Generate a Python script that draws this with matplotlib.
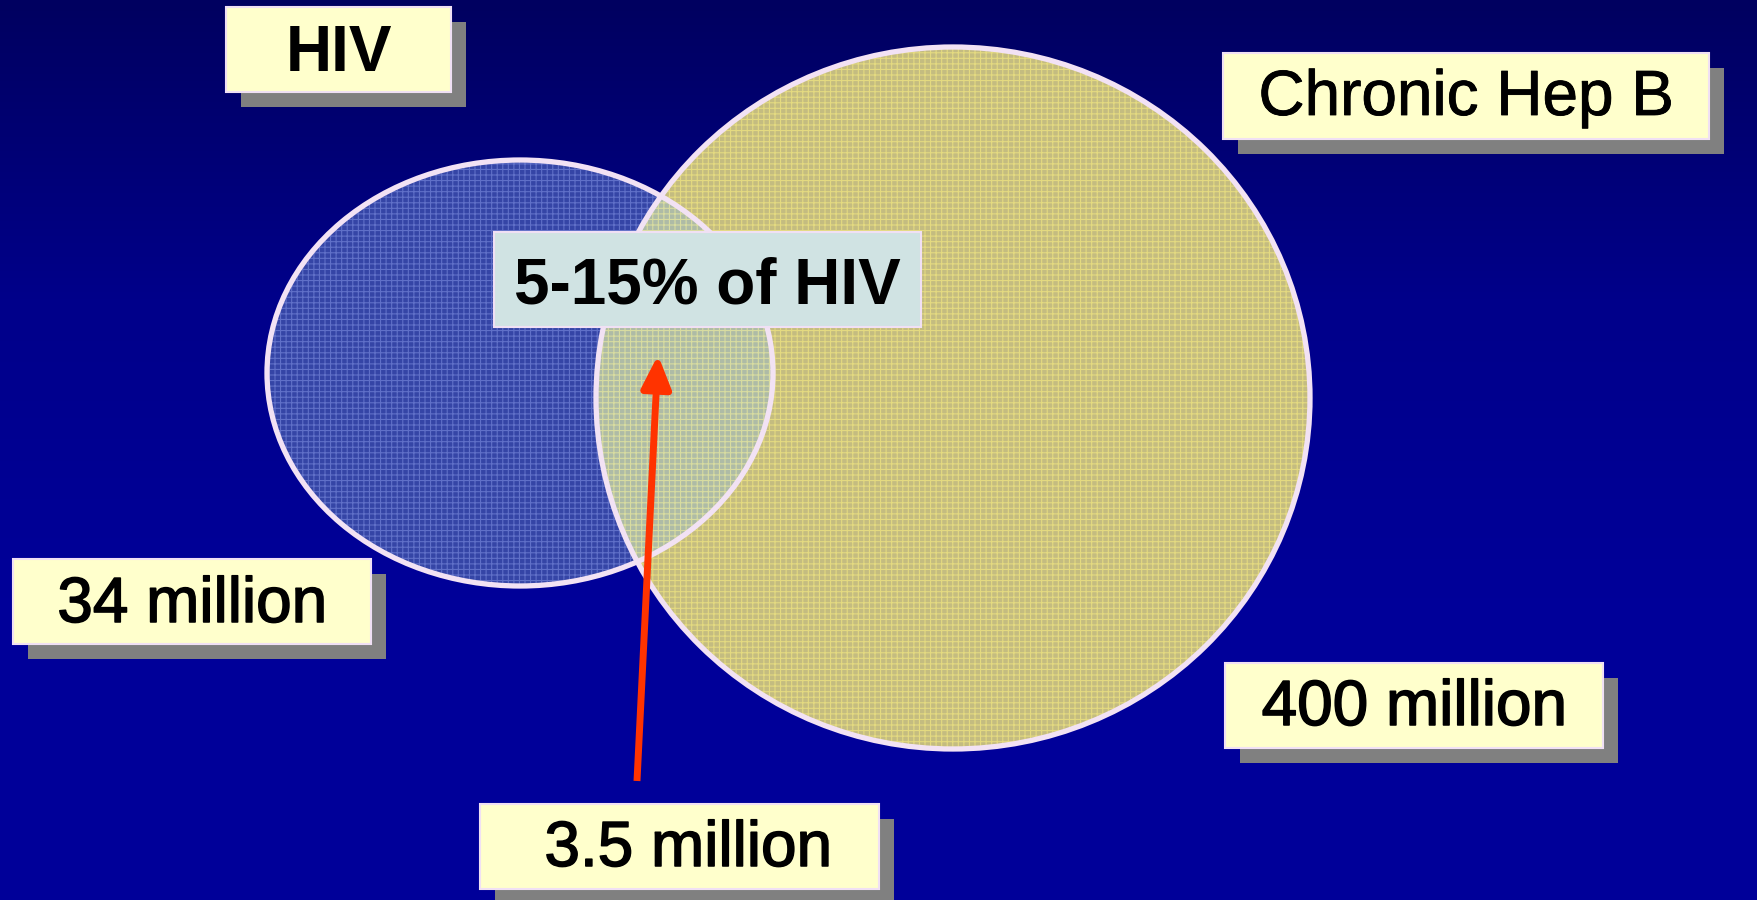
import numpy as np
import matplotlib.pyplot as plt
import matplotlib.patheffects as pe
from matplotlib.patches import Ellipse, Rectangle
from matplotlib.colors import LinearSegmentedColormap

plt.rcParams['font.family'] = ['Liberation Sans', 'DejaVu Sans']

# venn content: the two populations and their overlap
groups = ["HIV", "Chronic Hep B"]
group_totals = ["34 million", "400 million"]
overlap_share = "5-15% of HIV"
overlap_total = "3.5 million"

W, H = 1758, 900
fig = plt.figure(figsize=(W / 100, H / 100), dpi=100)
ax = fig.add_axes([0, 0, 1, 1])
ax.set_xlim(0, W)
ax.set_ylim(H, 0)
ax.axis('off')

# navy to blue background gradient
bg = LinearSegmentedColormap.from_list('bg', ['#000060', '#00008a', '#000099', '#000099'])
ax.imshow(np.linspace(0, 1, 256).reshape(-1, 1), cmap=bg, aspect='auto',
          extent=[0, W, H, 0], zorder=0)

plt.rcParams['hatch.linewidth'] = 0.8

# ellipse geometry (center x, center y, width, height)
hiv_geo = (520, 373, 506, 426)
hbv_geo = (953, 398, 714, 702)
edge_col = '#f2e2f4'

hiv = Ellipse(hiv_geo[:2], hiv_geo[2], hiv_geo[3], facecolor='#3545a6', edgecolor='none', zorder=2)
ax.add_patch(hiv)
ax.add_patch(Ellipse(hiv_geo[:2], hiv_geo[2], hiv_geo[3], facecolor='none', edgecolor='#6070c8',
                     hatch='+++', linewidth=0, zorder=2.1))

hbv = Ellipse(hbv_geo[:2], hbv_geo[2], hbv_geo[3], facecolor='#c4bc80', edgecolor='none', zorder=3)
ax.add_patch(hbv)
ax.add_patch(Ellipse(hbv_geo[:2], hbv_geo[2], hbv_geo[3], facecolor='none', edgecolor='#e4da80',
                     hatch='+++', linewidth=0, zorder=3.1))

# overlap lens
lens = Ellipse(hbv_geo[:2], hbv_geo[2], hbv_geo[3], facecolor='#aebba6', edgecolor='none', zorder=4)
ax.add_patch(lens)
lens.set_clip_path(hiv)
lens_h = Ellipse(hbv_geo[:2], hbv_geo[2], hbv_geo[3], facecolor='none', edgecolor='#d8dca0',
                 hatch='+++', linewidth=0, zorder=4.1)
ax.add_patch(lens_h)
lens_h.set_clip_path(hiv)

# outlines on top
for g in (hiv_geo, hbv_geo):
    ax.add_patch(Ellipse(g[:2], g[2], g[3], facecolor='none', edgecolor=edge_col,
                         linewidth=3.8, zorder=5))

# arrow from the 3.5 million label to the overlap
ax.annotate('', xy=(658, 355), xytext=(637, 781),
            arrowprops=dict(arrowstyle='-|>,head_length=1.0,head_width=0.45',
                            color='#ff3300', lw=5, mutation_scale=20,
                            shrinkA=0, shrinkB=0, capstyle='butt'),
            zorder=6)


def label(x0, y0, x1, y1, text, tx, ty, weight='normal', face='#ffffcc', shadow=True, thick=0.0):
    if shadow:
        ax.add_patch(Rectangle((x0 + 15, y0 + 15), x1 - x0, y1 - y0,
                               facecolor='#808080', edgecolor='none', zorder=7))
    ax.add_patch(Rectangle((x0, y0), x1 - x0, y1 - y0, facecolor=face,
                           edgecolor='#f0e0f4', linewidth=1.5, zorder=8))
    t = ax.text(tx, ty, text, fontsize=46, fontweight=weight, color='black',
                ha='center', va='baseline', zorder=9)
    if thick:
        t.set_path_effects([pe.withStroke(linewidth=thick, foreground='black')])


label(226, 7, 451, 92, groups[0], 339, 71, weight='bold')
label(1223, 53, 1709, 139, groups[1], 1466, 115, thick=0.6)
label(13, 559, 371, 644, group_totals[0], 192, 622, thick=1.1)
label(1225, 663, 1603, 748, group_totals[1], 1414, 725, thick=1.1)
label(480, 804, 879, 889, overlap_total, 688, 866, thick=1.1)
label(494, 232, 921, 327, overlap_share, 707, 303, weight='bold', face='#d0e3e3', shadow=False)

fig.savefig('out.png', dpi=100)
